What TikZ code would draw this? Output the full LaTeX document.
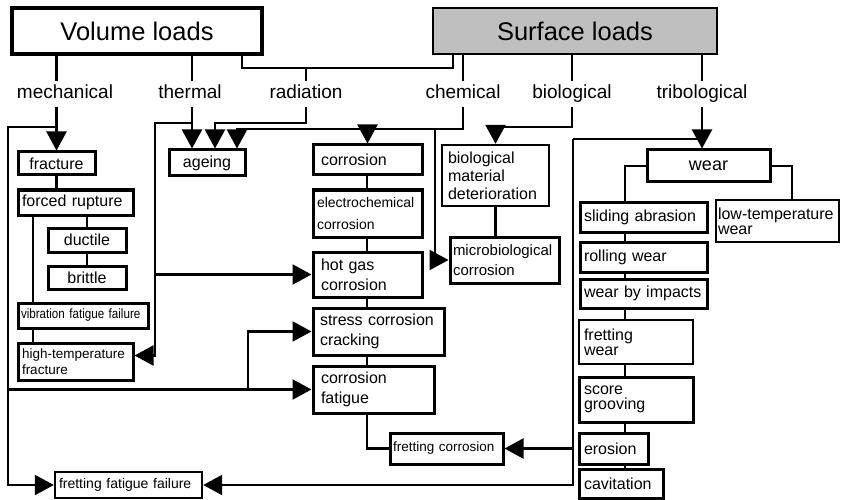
\documentclass[tikz,border=0pt]{standalone}
\usepackage{fontspec}
\setmainfont{Liberation Sans}
\newfontfamily\narrowfont[FakeStretch=0.86]{Liberation Sans}
\usetikzlibrary{arrows.meta}

\tikzset{
  bx/.style={draw, line width=3pt, inner xsep=5pt, inner ysep=0pt, align=left,
    font=\fontsize{16}{20}\selectfont,
    execute at begin node={\hyphenpenalty=10000\exhyphenpenalty=10000\relax}},
  lbl/.style={inner xsep=2pt, inner ysep=4pt, text height=14pt, text depth=4pt,
    font=\fontsize{19}{22}\selectfont},
  ln/.style={line width=2.2pt},
  arr/.style={line width=2.2pt, -{Triangle[length=19pt,width=20pt]}},
}

\begin{document}
\begin{tikzpicture}[x=1pt,y=-1pt]
\useasboundingbox (0,0) rectangle (841,500);

        \begin{scope}[every node/.style={bx}]
          \node[line width=3.2pt, minimum width=250, minimum height=46, align=center,
            font=\fontsize{25.5}{30}\selectfont] (vol) at (137,31) {Volume loads};
          \node[line width=2.4pt, fill=gray!50, minimum width=284, minimum height=46, align=center,
            font=\fontsize{25.5}{30}\selectfont] (surf) at (575,31) {Surface loads};

          % mechanical
          \node[minimum width=77, minimum height=23, align=center] (frac) at (56.5,163.5) {fracture};
          \node[text width=107, inner xsep=4pt, minimum height=25] (fr) at (75.5,202.5) {forced rupture};
          \node[minimum width=78, minimum height=24, align=center] (duct) at (87,240) {ductile};
          \node[minimum width=78, minimum height=23, align=center] (brit) at (87,277.5) {brittle};
          \node[text width=124, inner xsep=3pt, minimum height=25,
            font=\narrowfont\fontsize{13.5}{16}\selectfont] (vib) at (83,315.5) {vibration fatigue failure};
          \node[text width=107, inner xsep=4pt, minimum height=37,
            font=\fontsize{13.5}{16}\selectfont] (htf) at (75.5,361.5) {high-temperature\\fracture};
          \node[line width=2.4pt, text width=139, inner xsep=4pt, minimum height=26,
            font=\fontsize{14}{16}\selectfont] (fff) at (128.5,485) {fretting fatigue failure};

          % thermal, chemical
          \node[minimum width=76, minimum height=26, align=center] (age) at (207,163) {ageing};
          \node[text width=93, inner xsep=8pt, minimum height=30] (corr) at (367.5,160) {corrosion};
          \node[text width=101, inner xsep=4pt, minimum height=47,
            font=\fontsize{14}{22}\selectfont] (ech) at (367.5,213.5) {electrochemical\\corrosion};
          \node[text width=93, inner xsep=8pt, minimum height=45] (hgc) at (367.5,274.5) {hot gas\\corrosion};
          \node[text width=117, inner xsep=7pt, minimum height=47] (scc) at (378.5,331.5) {stress corrosion\\cracking};
          \node[text width=105, inner xsep=8pt, minimum height=47] (cf) at (373.5,389.5) {corrosion\\fatigue};
          \node[text width=107, inner xsep=3pt, minimum height=31,
            font=\fontsize{13.5}{16}\selectfont] (frc) at (446.5,448.5) {fretting corrosion};

          % biological
          \node[line width=2.4pt, text width=95, inner xsep=6pt, minimum height=61,
            font=\fontsize{16}{18}\selectfont] (bmd) at (495.5,175.5) {biological\\material\\deterioration};
          \node[text width=103, inner xsep=3pt, minimum height=46,
            font=\fontsize{15}{20}\selectfont] (mbc) at (504.5,260) {microbiological\\corrosion};

          % tribological
          \node[minimum width=123, minimum height=32, align=center,
            font=\fontsize{18}{20}\selectfont] (wear) at (708.5,166) {wear};
          \node[text width=119, inner xsep=4pt, minimum height=30] (sa) at (643.5,217) {sliding abrasion};
          \node[line width=2.2pt, text width=119, inner xsep=2pt, minimum height=42,
            font=\fontsize{16}{15}\selectfont] (ltw) at (777.5,221) {low-temperature\\wear};
          \node[text width=119, inner xsep=4pt, minimum height=30] (rw) at (643.5,257) {rolling wear};
          \node[text width=119, inner xsep=4pt, minimum height=29] (wbi) at (643.5,293.5) {wear by impacts};
          \node[line width=2.4pt, text width=104, minimum height=44,
            font=\fontsize{16}{15}\selectfont] (fw) at (636,342) {fretting\\wear};
          \node[text width=104, minimum height=45,
            font=\fontsize{16}{15}\selectfont] (sg) at (636,399.5) {score\\grooving};
          \node[text width=59, minimum height=31] (er) at (613.5,448.5) {erosion};
          \node[text width=74, minimum height=29] (cav) at (621,483.5) {cavitation};
        \end{scope}

        \begin{scope}[every node/.style={lbl}]
          \node (mech)  at (65,94)  {mechanical};
          \node (therm) at (190,94) {thermal};
          \node (rad)   at (306,94) {radiation};
          \node (chem)  at (463,94) {chemical};
          \node (bio)   at (572,94) {biological};
          \node (trib)  at (702,94) {tribological};
        \end{scope}

        \coordinate (vs) at (242,68);
        \coordinate (ss) at (453,68);
        \coordinate (l1) at (8,127);
        \coordinate (l2) at (248,0);
        \coordinate (t1) at (192,123);
        \coordinate (t2) at (155,123);
        \coordinate (r1) at (215,123);
        \coordinate (c1) at (237,129);
        \coordinate (c2) at (435,129);
        \coordinate (b1) at (0,127);
        \coordinate (w1) at (573,139);
        \coordinate (cx) at (367,0);
        \coordinate (vx) at (33,0);
        \coordinate (wx) at (625,0);
        \coordinate (wy) at (792,0);

        % loads to labels
        \draw[ln] (vs |- vol.south) -- (vs) -- (ss) -- (ss |- surf.south);
        \draw[ln] (rad.north |- vs) -- (rad.north);
        \draw[ln] (frac.north |- vol.south) -- (frac.north |- mech.north);
        \draw[ln] (t1 |- vol.south) -- (t1 |- therm.north);
        \draw[ln] (chem.north |- surf.south) -- (chem.north);
        \draw[ln] (bio.north |- surf.south) -- (bio.north);
        \draw[ln] (trib.north |- surf.south) -- (trib.north);

        % mechanical
        \draw[arr] (frac.north |- mech.south) -- (frac.north);
        \draw[arr] (frac.north |- l1) -- (l1) |- (fff.west);
        \draw[arr] (l1 |- cf.west) -- (cf.west);
        \draw[arr] (l2 |- cf.west) |- (scc.west);
        \draw[ln] (frac.south) -- (frac.south |- fr.north);
        \draw[ln] (duct.north |- fr.south) -- (duct.north);
        \draw[ln] (duct) -- (brit);
        \draw[ln] (vx |- fr.south) -- (vx |- vib.north);
        \draw[ln] (vx |- vib.south) -- (vx |- htf.north);

        % thermal, radiation
        \draw[arr] (t1 |- therm.south) -- (t1 |- age.north);
        \draw[arr] (t1) -- (t2) |- ([yshift=6pt]htf.east);
        \draw[arr] (t2 |- hgc.west) -- (hgc.west);
        \draw[arr] (rad.south) |- (r1) -- (r1 |- age.north);

        % chemical
        \draw[arr] (chem.south) |- (c1) -- (c1 |- age.north);
        \draw[arr] (corr.north |- c1) -- (corr.north);
        \draw[arr] (c2) |- (mbc.west);
        \foreach \a/\b in {corr/ech,ech/hgc,hgc/scc,scc/cf}
          \draw[ln] (cx |- \a.south) -- (cx |- \b.north);
        \draw[ln] (cx |- cf.south) |- (frc.west);

        % biological
        \draw[arr] (bio.south) |- (bmd.north |- b1) -- (bmd.north);
        \draw[ln] (bmd.south) -- (bmd.south |- mbc.north);

        % tribological
        \draw[arr] (trib.south) -- (trib.south |- wear.north);
        \draw[ln] (trib.south |- w1) -- (w1);
        \draw[arr] (w1) |- (fff.east);
        \draw[arr] (w1 |- frc.east) -- (frc.east);
        \draw[ln] (wear.west) -| (wx |- sa.north);
        \draw[ln] (wear.east) -| (wy |- ltw.north);
        \foreach \a/\b in {sa/rw,rw/wbi,wbi/fw,fw/sg,sg/er,er/cav}
          \draw[ln] (wx |- \a.south) -- (wx |- \b.north);

      \end{tikzpicture}
\end{document}
